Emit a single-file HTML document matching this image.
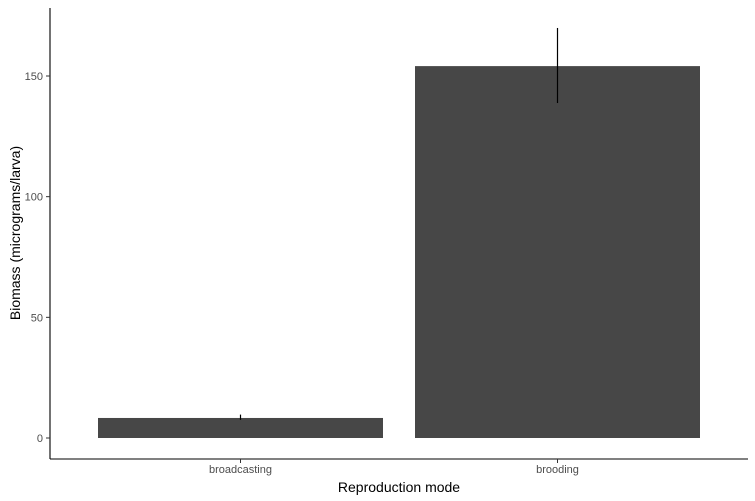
<!DOCTYPE html>
<html><head><meta charset="utf-8"><style>body{margin:0;background:#fff}svg{display:block;font-family:"Liberation Sans",sans-serif}</style></head>
<body>
<svg id="chart" width="755" height="501">
<line x1="50" y1="8" x2="50" y2="459" stroke="#000" stroke-width="1.1"/>
<line x1="50" y1="459" x2="748" y2="459" stroke="#000" stroke-width="1.1"/>
<text x="20" y="233" transform="rotate(-90 20 233)" text-anchor="middle" font-size="14" fill="#000">Biomass (micrograms/larva)</text>
<text x="399" y="492" text-anchor="middle" font-size="14" fill="#000">Reproduction mode</text>
</svg>
<script>
const categories = ["broadcasting", "brooding"];
const values = [8.3, 154.1];
const errLow = [7.5, 138.8];
const errHigh = [9.7, 169.9];
const yTicks = [0, 50, 100, 150];
const svg = document.getElementById('chart');
const NS = 'http://www.w3.org/2000/svg';
const y = v => 438 - v * (362 / 150);
const xCenter = i => 240.5 + i * 317;
const bw = 285;
function mk(tag, attrs, text) {
  const e = document.createElementNS(NS, tag);
  for (const k in attrs) e.setAttribute(k, attrs[k]);
  if (text !== undefined) e.textContent = text;
  svg.appendChild(e);
  return e;
}
yTicks.forEach(t => {
  const l = mk('line', {x1: 46, x2: 50, y1: y(t), y2: y(t), stroke: '#333', 'stroke-width': 1});
  
  
  const tx = mk('text', {x: 43, y: y(t) + 4, 'text-anchor': 'end', 'font-size': 11, fill: '#4d4d4d'}, t);
  
  
});
categories.forEach((c, i) => {
  const cx = xCenter(i);
  const r = mk('rect', {x: cx - bw / 2, y: y(values[i]), width: bw, height: y(0) - y(values[i]), fill: '#474747'});
  
  
  const e = mk('line', {x1: cx, x2: cx, y1: y(errHigh[i]), y2: y(errLow[i]), stroke: '#000', 'stroke-width': 1.2});
  
  
  const tk = mk('line', {x1: cx, x2: cx, y1: 459, y2: 463, stroke: '#333', 'stroke-width': 1});
  
  
  const lb = mk('text', {x: cx, y: 473, 'text-anchor': 'middle', 'font-size': 11, fill: '#4d4d4d'}, c);
  
  
});
</script>
</body></html>
